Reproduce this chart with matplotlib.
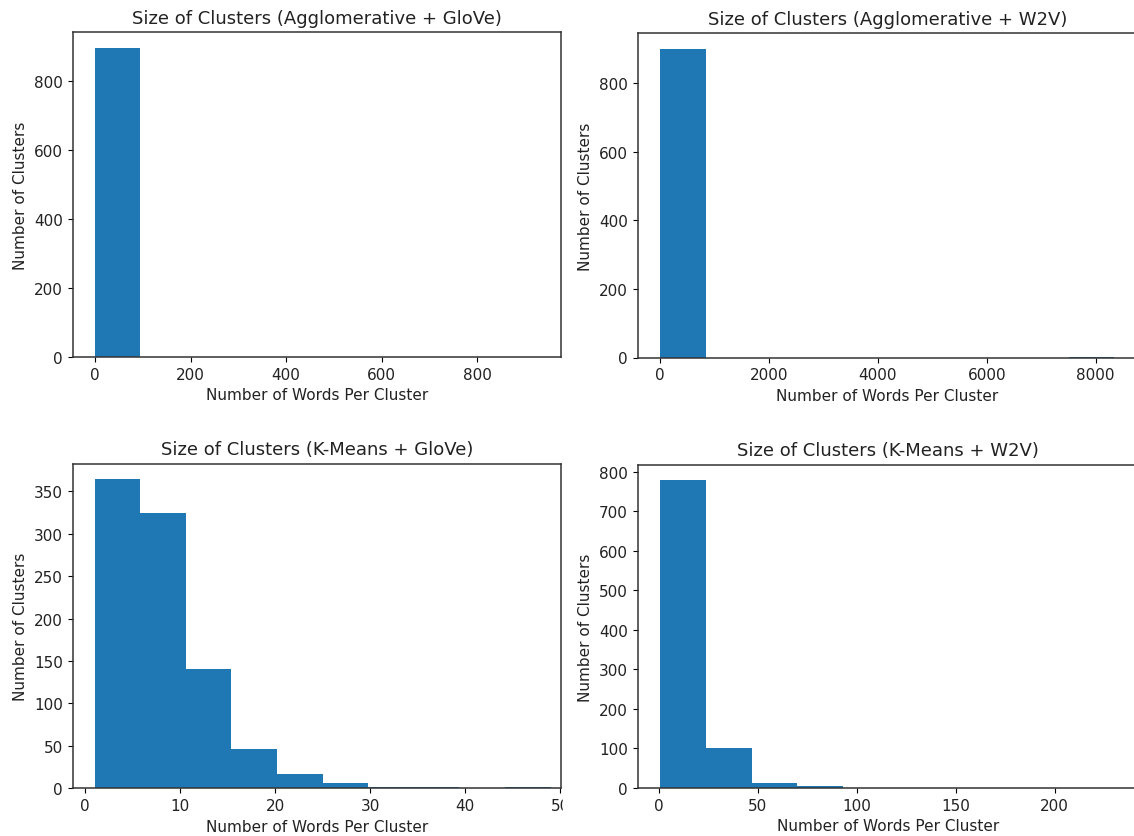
import numpy as np
import matplotlib
matplotlib.use('Agg')
import matplotlib.pyplot as plt
from matplotlib.patches import Rectangle

# cluster-size histograms (10 bins each)
titles = ['Size of Clusters (Agglomerative + GloVe)',
          'Size of Clusters (Agglomerative + W2V)',
          'Size of Clusters (K-Means + GloVe)',
          'Size of Clusters (K-Means + W2V)']

agg_glove_range = (1, 928)
agg_glove_counts = [897, 0, 0, 0, 0, 0, 0, 0, 0, 1]

agg_w2v_range = (1, 8341)
agg_w2v_counts = [900, 0, 0, 0, 0, 0, 0, 0, 0, 1]

km_glove_range = (1, 49)
km_glove_counts = [364, 324, 141, 46, 17, 6, 2, 2, 0, 2]

km_w2v_range = (1, 231)
km_w2v_counts = [778, 101, 12, 4, 0, 0, 0, 0, 0, 1]

W, H = 1134, 837
fig = plt.figure(figsize=(W / 100, H / 100), dpi=100)
plt.rcParams['font.family'] = 'DejaVu Sans'


def px_axes(left, top, right, bottom):
    # pixel box (from top-left) -> figure fraction
    return fig.add_axes([left / W, 1 - bottom / H, (right - left) / W, (bottom - top) / H])


axes = [px_axes(72.7, 33.3, 561, 358),
        px_axes(637.5, 34.3, 1137, 358.5),
        px_axes(72.7, 465, 561, 789.3),
        px_axes(637.7, 466, 1139, 789)]

data = [(agg_glove_range, agg_glove_counts),
        (agg_w2v_range, agg_w2v_counts),
        (km_glove_range, km_glove_counts),
        (km_w2v_range, km_w2v_counts)]

for ax, title, (rng, counts) in zip(axes, titles, data):
    edges = np.linspace(rng[0], rng[1], len(counts) + 1)
    ax.hist(edges[:-1], bins=edges, weights=counts, color='#1f77b4')
    ax.set_title(title, fontsize=13, pad=7, color='#222222')
    ax.set_xlabel('Number of Words Per Cluster', fontsize=11, color='#222222')
    ax.set_ylabel('Number of Clusters', fontsize=11, color='#222222')
    ax.tick_params(labelsize=11, labelcolor='#222222')
    for s in ax.spines.values():
        s.set_linewidth(1.1)
        s.set_color('#333333')

# left column screenshot was trimmed a bit tighter on the right
axes[0].set_xlim(-46.6, 975)
axes[2].set_xlim(-1.3, 50.1)

# the left image is cut just past its right spine ("50" shows as "5")
fig.add_artist(Rectangle((563 / W, 1 - 818 / H), 12 / W, 26 / H,
                         transform=fig.transFigure, color='white', zorder=10))

fig.savefig('out.png', dpi=100)
